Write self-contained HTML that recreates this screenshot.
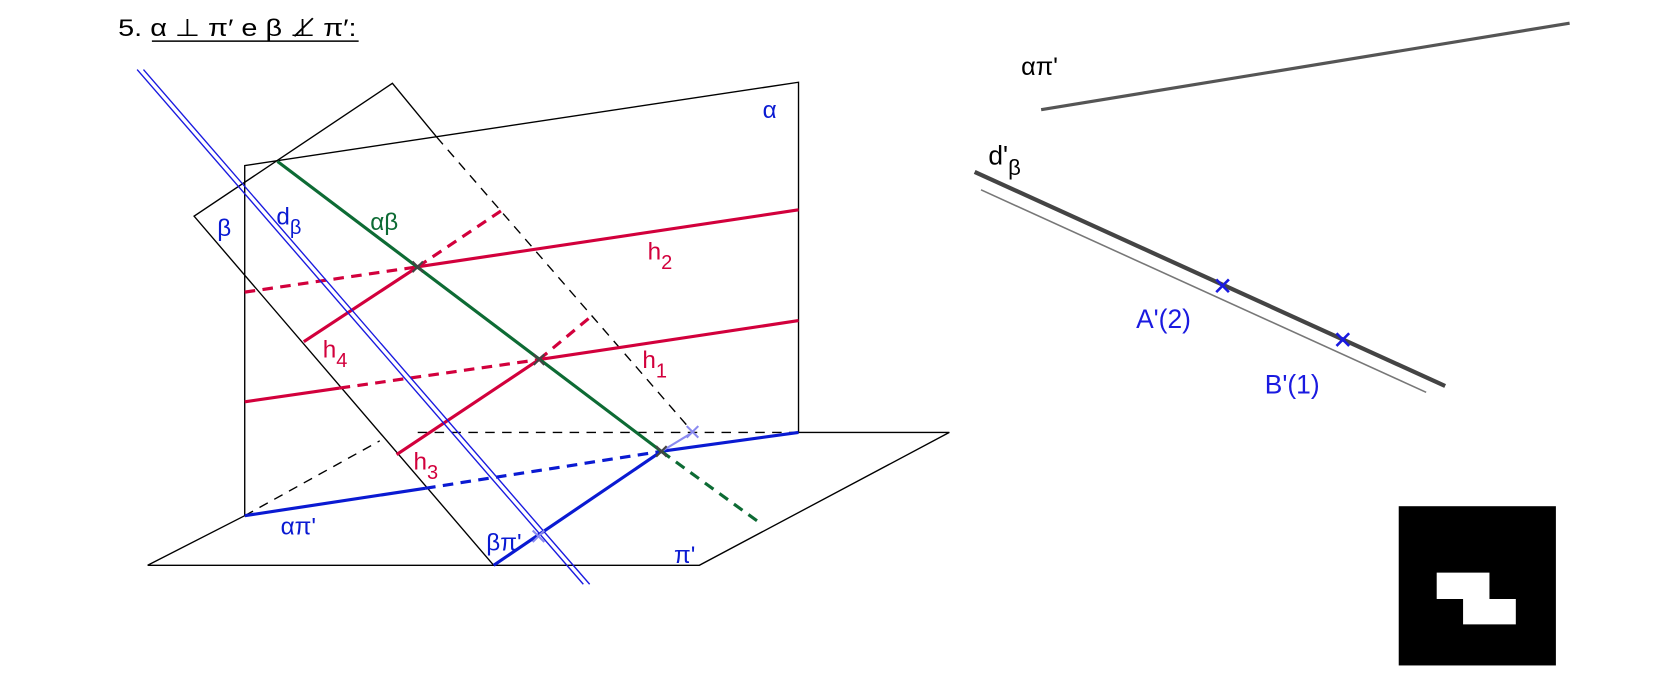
<!DOCTYPE html>
<html><head><meta charset="utf-8"><style>
html,body{margin:0;padding:0;background:#fff;}
svg{display:block;}
text{font-family:"Liberation Sans","DejaVu Sans",sans-serif;}
</style></head><body>
<svg width="1654" height="676" viewBox="0 0 1568 641" preserveAspectRatio="none" xmlns="http://www.w3.org/2000/svg">
<!-- title -->
<text x="112" y="34" font-size="23" font-family="DejaVu Sans, sans-serif" fill="#000" textLength="226" lengthAdjust="spacingAndGlyphs">5. α ⊥ π′ e β ⊥̸ π′:</text>
<line x1="144" y1="39" x2="340" y2="39" stroke="#000" stroke-width="1.5"/>

<g fill="none" stroke-linecap="butt">
<polyline points="232,489 232,157 757,78 757,410" stroke="#000" stroke-width="1.3"/>
<polyline points="232,489 140,536 663,536 900,410 757,410" stroke="#000" stroke-width="1.3"/>
<line x1="757" y1="410" x2="393" y2="410" stroke="#000" stroke-width="1.3" stroke-dasharray="9,7"/>
<line x1="232" y1="489" x2="360" y2="418" stroke="#000" stroke-width="1.3" stroke-dasharray="9,7"/>
<polyline points="468,536 184,205 372,79 414,130" stroke="#000" stroke-width="1.3"/>
<line x1="414" y1="130" x2="657" y2="410" stroke="#000" stroke-width="1.3" stroke-dasharray="9,7"/>

<line x1="396" y1="253" x2="757" y2="199" stroke="#d2003c" stroke-width="3"/>
<line x1="232" y1="277" x2="396" y2="253" stroke="#d2003c" stroke-width="3" stroke-dasharray="10,7"/>
<line x1="288" y1="324" x2="396" y2="253" stroke="#d2003c" stroke-width="3"/>
<line x1="396" y1="253" x2="475" y2="200" stroke="#d2003c" stroke-width="3" stroke-dasharray="10,7"/>
<line x1="232" y1="381" x2="322" y2="368" stroke="#d2003c" stroke-width="3"/>
<line x1="322" y1="368" x2="511" y2="341" stroke="#d2003c" stroke-width="3" stroke-dasharray="10,7"/>
<line x1="511" y1="341" x2="757" y2="304" stroke="#d2003c" stroke-width="3"/>
<line x1="376" y1="431" x2="511" y2="341" stroke="#d2003c" stroke-width="3"/>
<line x1="511" y1="341" x2="558" y2="302" stroke="#d2003c" stroke-width="3" stroke-dasharray="10,7"/>

<line x1="232" y1="489" x2="403" y2="463" stroke="#0a1ad2" stroke-width="3"/>
<line x1="403" y1="463" x2="627" y2="428" stroke="#0a1ad2" stroke-width="3" stroke-dasharray="10,7"/>
<line x1="627" y1="428" x2="757" y2="410" stroke="#0a1ad2" stroke-width="3"/>
<line x1="468" y1="536" x2="627" y2="428" stroke="#0a1ad2" stroke-width="3"/>
<line x1="627" y1="428" x2="655" y2="411" stroke="#8a8af0" stroke-width="2"/>

<line x1="263" y1="153" x2="627" y2="428" stroke="#0d6b34" stroke-width="3"/>
<line x1="627" y1="428" x2="722" y2="497" stroke="#0d6b34" stroke-width="3" stroke-dasharray="10,7"/>

<line x1="130" y1="66" x2="553" y2="554" stroke="#1a1ae0" stroke-width="1.3"/>
<line x1="136" y1="66" x2="559" y2="554" stroke="#1a1ae0" stroke-width="1.3"/>

<path d="M391,248 l10,10 M401,248 l-10,10 M506,336 l10,10 M516,336 l-10,10 M622,423 l10,10 M632,423 l-10,10" stroke="#444" stroke-width="2"/>
<path d="M651,404 l11,11 M662,404 l-11,11 M505,503 l11,11 M516,503 l-11,11" stroke="#8a8af0" stroke-width="2"/>
</g>

<g font-size="23">
<text x="723" y="112" fill="#0a1ad2">α</text>
<text x="206" y="224" fill="#0a1ad2">β</text>
<text x="262" y="213" fill="#0a1ad2">d<tspan font-size="19" dy="9">β</tspan></text>
<text x="351" y="218" fill="#0d6b34">αβ</text>
<text x="614" y="246" fill="#d2003c">h<tspan font-size="19" dy="9">2</tspan></text>
<text x="306" y="339" fill="#d2003c">h<tspan font-size="19" dy="9">4</tspan></text>
<text x="609" y="349" fill="#d2003c">h<tspan font-size="19" dy="9">1</tspan></text>
<text x="392" y="445" fill="#d2003c">h<tspan font-size="19" dy="9">3</tspan></text>
<text x="266" y="507" fill="#0a1ad2">απ'</text>
<text x="461" y="522" fill="#0a1ad2">βπ'</text>
<text x="639" y="534" fill="#0a1ad2">π'</text>
</g>

<line x1="987" y1="104" x2="1488" y2="22" stroke="#555" stroke-width="3"/>
<text x="968" y="71" font-size="24" fill="#000">απ'</text>
<line x1="924" y1="163" x2="1370" y2="366" stroke="#444" stroke-width="4"/>
<line x1="930" y1="180" x2="1352" y2="372" stroke="#777" stroke-width="1.5"/>
<text x="937" y="156" font-size="25" fill="#000">d'<tspan font-size="21" dy="10">β</tspan></text>
<path d="M1153,265 l12,12 M1165,265 l-12,12 M1267,316 l12,12 M1279,316 l-12,12" stroke="#1a1ae0" stroke-width="2.5"/>
<text x="1077" y="311" font-size="25" fill="#1a1ae0">A'(2)</text>
<text x="1199" y="373" font-size="25" fill="#1a1ae0">B'(1)</text>

<rect x="1326" y="480" width="149" height="151" fill="#000"/>
<polygon points="1362,543 1412,543 1412,568 1437,568 1437,592 1387,592 1387,568 1362,568" fill="#fff"/>
</svg>
</body></html>
